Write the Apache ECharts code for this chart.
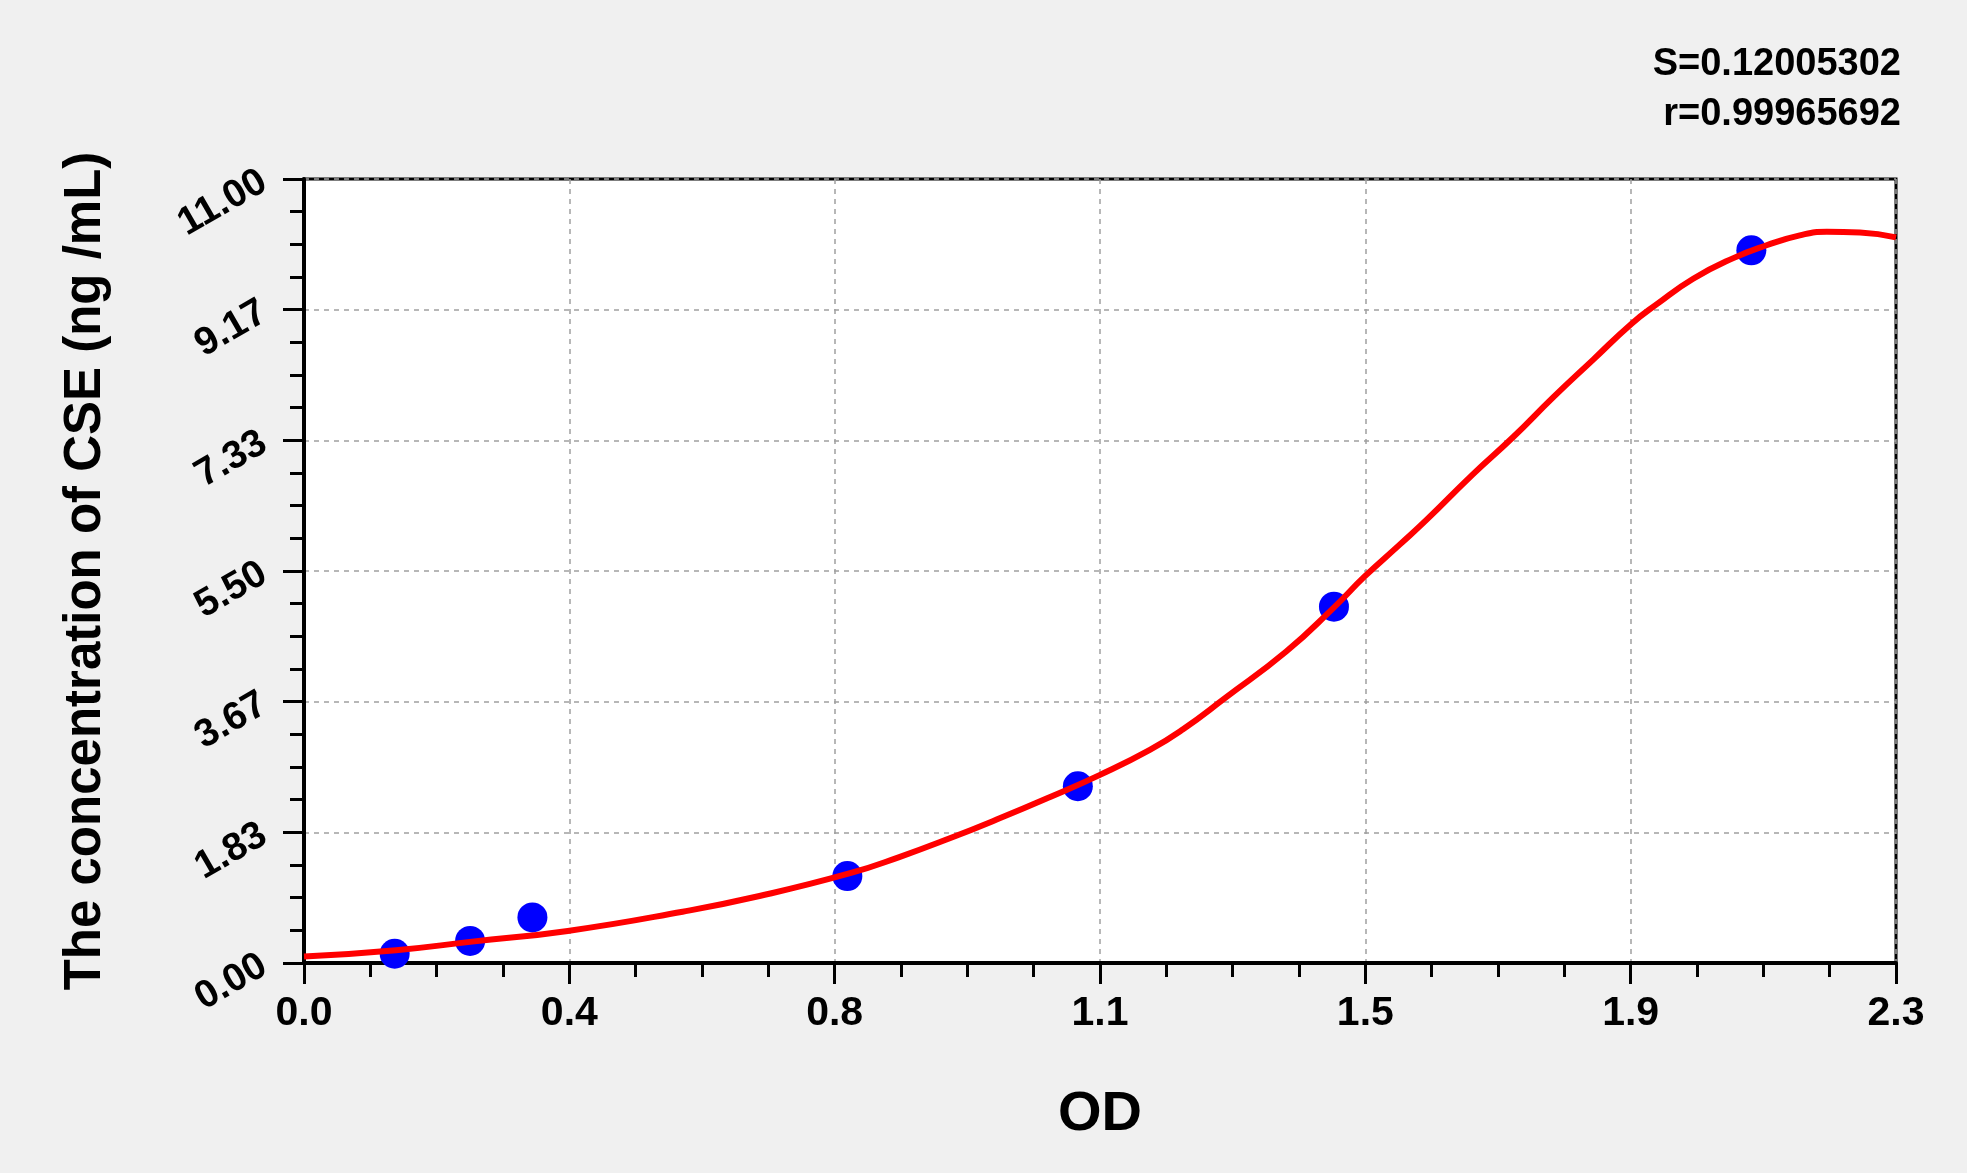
<!DOCTYPE html>
<html>
<head>
<meta charset="utf-8">
<script src="https://cdn.jsdelivr.net/npm/echarts@6/dist/echarts.min.js"></script>
<style>
html,body{margin:0;padding:0;background:#f0f0f0;}
#chart{width:1967px;height:1173px;}
</style>
</head>
<body>
<div id="chart"></div>
<script>
// ---- data ----
var xTickLabels = ['0.0', '0.4', '0.8', '1.1', '1.5', '1.9', '2.3'];
var yTickLabels = ['0.00', '1.83', '3.67', '5.50', '7.33', '9.17', '11.00'];
var xMax = 2.3;
var yMax = 11;

var standardsOD   = [0.131, 0.240, 0.330, 0.785, 1.118, 1.488, 2.091];
var standardsConc = [0.13, 0.31, 0.64, 1.22, 2.48, 5.00, 10.00];

var curveOD   = [0.000, 0.133, 0.243, 0.381, 0.547, 0.658, 0.789, 0.861, 0.933, 1.005, 1.078, 1.150, 1.222, 1.270, 1.331, 1.419, 1.487, 1.532, 1.583, 1.622, 1.689, 1.747, 1.805, 1.863, 1.918, 1.954, 2.007, 2.065, 2.113, 2.161, 2.200, 2.248, 2.300];
var curveConc = [0.09, 0.18, 0.30, 0.45, 0.72, 0.94, 1.26, 1.49, 1.75, 2.03, 2.33, 2.64, 2.99, 3.28, 3.72, 4.37, 4.98, 5.42, 5.87, 6.22, 6.86, 7.38, 7.94, 8.47, 8.97, 9.24, 9.60, 9.89, 10.07, 10.21, 10.26, 10.25, 10.18];

var statsLines = ['S=0.12005302', 'r=0.99965692'];
var xAxisTitle = 'OD';
var yAxisTitle = 'The concentration of CSE (ng /mL)';

// ---- build ----
var FONT = "'Liberation Sans', Arial, Helvetica, sans-serif";
var xInterval = xMax / (xTickLabels.length - 1);
var yInterval = yMax / (yTickLabels.length - 1);

var standards = standardsOD.map(function (x, i) { return [x, standardsConc[i]]; });
var curve = curveOD.map(function (x, i) { return [x, curveConc[i]]; });

var chart = echarts.init(document.getElementById('chart'));
chart.setOption({
  backgroundColor: '#f0f0f0',
  animation: false,
  grid: {
    left: 304, right: 71, top: 179, bottom: 210,
    show: true, backgroundColor: '#ffffff', borderColor: '#000', borderWidth: 3
  },
  graphic: [{
    type: 'text',
    right: 66, top: 40,
    style: {
      text: statsLines.join('\n'),
      font: 'bold 38px ' + FONT,
      fill: '#000',
      textAlign: 'right',
      lineHeight: 50
    }
  }],
  xAxis: {
    type: 'value', min: 0, max: xMax, interval: xInterval,
    name: xAxisTitle, nameLocation: 'middle', nameGap: 124,
    nameTextStyle: { fontFamily: FONT, fontWeight: 'bold', fontSize: 56, color: '#000' },
    axisLine: { show: true, onZero: false, lineStyle: { color: '#000', width: 4 } },
    axisTick: { show: true, length: 21, lineStyle: { color: '#000', width: 3 } },
    minorTick: { show: true, splitNumber: 4, length: 14, lineStyle: { color: '#000', width: 3 } },
    axisLabel: {
      margin: 30, fontFamily: FONT, fontWeight: 'bold', fontSize: 41, color: '#000',
      formatter: function (v) { return xTickLabels[Math.round(v / xInterval)]; }
    },
    splitLine: { show: true, lineStyle: { color: '#a0a0a0', type: [5, 5], width: 1.5 } }
  },
  yAxis: {
    type: 'value', min: 0, max: yMax, interval: yInterval,
    name: yAxisTitle, nameLocation: 'middle', nameGap: 193, nameRotate: 90,
    nameTextStyle: { fontFamily: FONT, fontWeight: 'bold', fontSize: 51, color: '#000' },
    axisLine: { show: true, onZero: false, lineStyle: { color: '#000', width: 4 } },
    axisTick: { show: true, length: 21, lineStyle: { color: '#000', width: 3 } },
    minorTick: { show: true, splitNumber: 4, length: 14, lineStyle: { color: '#000', width: 3 } },
    axisLabel: {
      margin: 40, rotate: 30, fontFamily: FONT, fontWeight: 'bold', fontSize: 39, color: '#000',
      formatter: function (v) { return yTickLabels[Math.round(v / yInterval)]; }
    },
    splitLine: { show: true, lineStyle: { color: '#a0a0a0', type: [5, 5], width: 1.5 } }
  },
  series: [
    {
      type: 'line', data: curve, smooth: 0.5, showSymbol: false, symbol: 'none',
      lineStyle: { color: '#ff0000', width: 6 }, z: 3
    },
    {
      type: 'scatter', data: standards, symbol: 'circle', symbolSize: 30,
      itemStyle: { color: '#0000ff', opacity: 1 }, z: 2
    }
  ]
});
</script>
</body>
</html>
